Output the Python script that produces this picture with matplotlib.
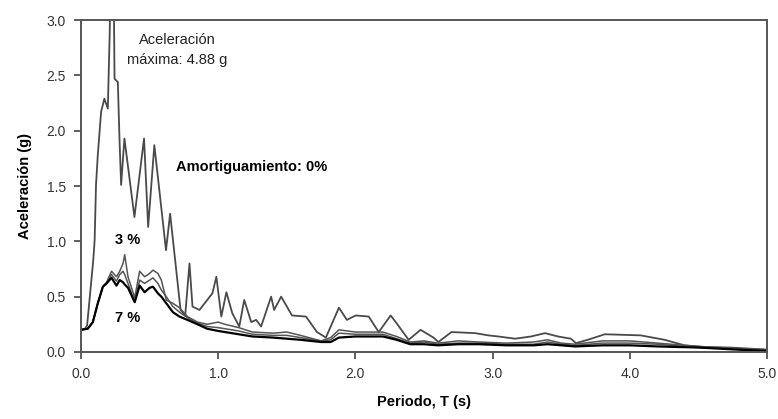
import matplotlib
matplotlib.use('Agg')
import matplotlib.pyplot as plt
from matplotlib.ticker import FormatStrFormatter

plt.rcParams['font.family'] = ['Liberation Sans', 'DejaVu Sans']

# amortiguamiento 0%
t0 = [0.0, 0.03, 0.045, 0.065, 0.09, 0.10, 0.11, 0.123, 0.147, 0.171, 0.196, 0.21,
      0.228, 0.245, 0.269, 0.281, 0.293, 0.317, 0.39, 0.46, 0.49, 0.535, 0.62, 0.65,
      0.726, 0.76, 0.791, 0.813, 0.864, 0.958, 0.987, 1.023, 1.060, 1.103, 1.154,
      1.190, 1.241, 1.277, 1.313, 1.386, 1.408, 1.459, 1.538, 1.640, 1.720, 1.785,
      1.880, 1.938, 2.003, 2.097, 2.170, 2.257, 2.300, 2.388, 2.475, 2.569, 2.605,
      2.700, 2.874, 2.968, 3.041, 3.164, 3.280, 3.382, 3.476, 3.570, 3.607, 3.694,
      3.817, 4.078, 4.253, 4.398, 4.543, 4.731, 4.877, 5.0]
a0 = [0.20, 0.21, 0.24, 0.50, 0.83, 1.01, 1.51, 1.78, 2.17, 2.29, 2.20, 2.89,
      4.88, 2.47, 2.44, 1.93, 1.51, 1.93, 1.22, 1.93, 1.13, 1.87, 0.92, 1.25,
      0.38, 0.33, 0.80, 0.41, 0.38, 0.53, 0.68, 0.32, 0.54, 0.35, 0.23,
      0.47, 0.27, 0.29, 0.23, 0.50, 0.38, 0.50, 0.33, 0.32, 0.18, 0.13,
      0.40, 0.29, 0.33, 0.32, 0.18, 0.33, 0.26, 0.11, 0.20, 0.13, 0.09,
      0.18, 0.17, 0.15, 0.14, 0.12, 0.14, 0.17, 0.14, 0.12, 0.08, 0.11,
      0.16, 0.15, 0.11, 0.06, 0.045, 0.04, 0.03, 0.02]

# amortiguamiento 3%, 5%, 7%
td = [0.0, 0.05, 0.087, 0.123, 0.16, 0.187, 0.223, 0.259, 0.283, 0.307, 0.319,
      0.343, 0.392, 0.428, 0.464, 0.501, 0.525, 0.561, 0.586, 0.622, 0.670, 0.718,
      0.776, 0.85, 0.92, 1.0, 1.05, 1.15, 1.25, 1.4, 1.5, 1.6, 1.75, 1.82, 1.88,
      2.0, 2.2, 2.3, 2.4, 2.5, 2.6, 2.75, 2.9, 3.1, 3.3, 3.4, 3.5, 3.6, 3.8, 4.0,
      4.2, 4.5, 4.8, 5.0]
a3 = [0.20, 0.21, 0.27, 0.44, 0.59, 0.63, 0.73, 0.68, 0.73, 0.80, 0.88,
      0.68, 0.49, 0.73, 0.68, 0.71, 0.74, 0.71, 0.65, 0.47, 0.44, 0.40,
      0.32, 0.27, 0.25, 0.27, 0.25, 0.22, 0.18, 0.17, 0.18, 0.15, 0.10, 0.13, 0.20,
      0.18, 0.18, 0.14, 0.09, 0.10, 0.08, 0.10, 0.09, 0.08, 0.09, 0.11, 0.08, 0.07,
      0.10, 0.10, 0.08, 0.05, 0.03, 0.02]
a5 = [0.20, 0.21, 0.27, 0.44, 0.59, 0.62, 0.70, 0.64, 0.70, 0.73, 0.70,
      0.62, 0.45, 0.65, 0.62, 0.65, 0.67, 0.62, 0.56, 0.50, 0.41, 0.36,
      0.31, 0.26, 0.23, 0.22, 0.21, 0.19, 0.16, 0.15, 0.15, 0.13, 0.10, 0.11, 0.17,
      0.16, 0.16, 0.12, 0.08, 0.09, 0.07, 0.08, 0.08, 0.07, 0.07, 0.09, 0.07, 0.06,
      0.08, 0.08, 0.07, 0.04, 0.03, 0.02]
a7 = [0.20, 0.21, 0.27, 0.44, 0.59, 0.62, 0.67, 0.60, 0.65, 0.63, 0.61,
      0.58, 0.45, 0.60, 0.54, 0.58, 0.59, 0.53, 0.50, 0.44, 0.36, 0.32,
      0.29, 0.25, 0.21, 0.19, 0.18, 0.16, 0.14, 0.13, 0.12, 0.11, 0.09, 0.09, 0.13,
      0.14, 0.14, 0.11, 0.07, 0.07, 0.06, 0.07, 0.07, 0.06, 0.06, 0.07, 0.06, 0.05,
      0.06, 0.06, 0.05, 0.04, 0.02, 0.01]

xticks = [0, 1, 2, 3, 4, 5]
yticks = [0.0, 0.5, 1.0, 1.5, 2.0, 2.5, 3.0]

fig = plt.figure(figsize=(7.78, 4.19), dpi=100)
ax = fig.add_axes([0.104, 0.160, 0.882, 0.792])

ax.plot(t0, a0, color='#4a4a4a', lw=1.3)
ax.plot(td, a3, color='#555555', lw=1.1)
ax.plot(td, a5, color='#555555', lw=1.1)
ax.plot(td, a7, color='black', lw=1.6)

ax.set_xlim(0, 5)
ax.set_ylim(0, 3)
ax.set_xticks(xticks)
ax.set_yticks(yticks)
ax.xaxis.set_major_formatter(FormatStrFormatter('%.1f'))
ax.yaxis.set_major_formatter(FormatStrFormatter('%.1f'))
ax.tick_params(direction='out', length=5, width=1.2, colors='#444444',
               labelsize=10, labelcolor='#333333', pad=6)
for s in ax.spines.values():
    s.set_color('#555555')
    s.set_linewidth(1.4)

ax.set_xlabel('Periodo, T (s)', fontsize=10.5, fontweight='bold', labelpad=10)
ax.set_ylabel('Aceleración (g)', fontsize=10.5, fontweight='bold', labelpad=10)

ax.text(0.70, 2.73, 'Aceleración\nmáxima: 4.88 g', ha='center', va='center',
        fontsize=10.5, color='#222222', linespacing=1.5)
ax.text(0.69, 1.67, 'Amortiguamiento: 0%', ha='left', va='center',
        fontsize=10.5, fontweight='bold')
ax.text(0.34, 1.01, '3 %', ha='center', va='center', fontsize=10.5, fontweight='bold')
ax.text(0.34, 0.31, '7 %', ha='center', va='center', fontsize=10.5, fontweight='bold')

fig.savefig('out.png', dpi=100)
